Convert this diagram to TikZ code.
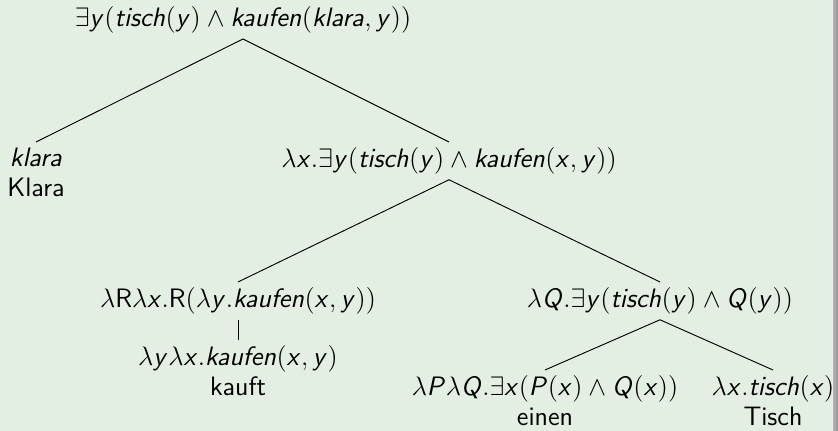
\documentclass[tikz,border=0pt]{standalone}
\usetikzlibrary{positioning}
\renewcommand{\familydefault}{\sfdefault}
\definecolor{framebg}{HTML}{E4EFE4}
\colorlet{frameedge}{gray!75}
% slanted sans letters in math, as in a beamer slide
\DeclareSymbolFont{sfletters}{OT1}{cmss}{m}{sl}
\makeatletter
\count@=`a
\loop
  \mathcode\count@=\numexpr"7000+"100*\symsfletters+\count@\relax
  \ifnum\count@<`z \advance\count@\@ne \repeat
\count@=`A
\loop
  \mathcode\count@=\numexpr"7000+"100*\symsfletters+\count@\relax
  \ifnum\count@<`Z \advance\count@\@ne \repeat
\makeatother

\begin{document}
\begin{tikzpicture}[
		x=0.45pt, y=-0.45pt,
		term/.style={font=\fontsize{12}{13.5}\selectfont, align=center, inner sep=2.3pt},
		branch/.style={draw=black, line width=0.42pt},
		]
		% slide background
		\fill[framebg] (0,0) rectangle (838,431);
		\useasboundingbox (0,0) rectangle (838,431);
		
		% sentence
		\node[term, anchor=south] (root) at (243,39) {$\exists y(tisch(y)\land kaufen(klara,y))$};
		
		% subject and VP
		\node[term, anchor=north] (klara) at (36,142) {$klara$\\Klara};
		\node[term, anchor=north] (vp) at (449,142) {$\lambda x.\exists y(tisch(y)\land kaufen(x,y))$};
		
		% verb and object NP
		\node[term, anchor=north] (verb) at (238,282) {$\lambda\textnormal{R}\lambda x.\textnormal{R}(\lambda y.kaufen(x,y))$};
		\node[term, anchor=north] (np) at (660,282) {$\lambda Q.\exists y(tisch(y)\land Q(y))$};
		
		% leaves
		\node[term, anchor=north] (kauft) at (238,340) {$\lambda y\lambda x.kaufen(x,y)$\\kauft};
		\node[term, anchor=north] (einen) at (545,370) {$\lambda P\lambda Q.\exists x(P(x)\land Q(x))$\\einen};
		\node[term, anchor=north] (tisch) at (773,370) {$\lambda x.tisch(x)$\\Tisch};
		
		\draw[branch] (root.south) -- (klara.north);
		\draw[branch] (root.south) -- (vp.north);
		\draw[branch] (vp.south) -- (verb.north);
		\draw[branch] (vp.south) -- (np.north);
		\draw[branch] (verb.south) -- (kauft.north);
		\draw[branch] (np.south) -- (einen.north);
		\draw[branch] (np.south) -- (tisch.north);
		
		% right edge of the frame
		\shade[left color=gray!60, right color=gray!85] (833,0) rectangle (838,431);
	\end{tikzpicture}
\end{document}
